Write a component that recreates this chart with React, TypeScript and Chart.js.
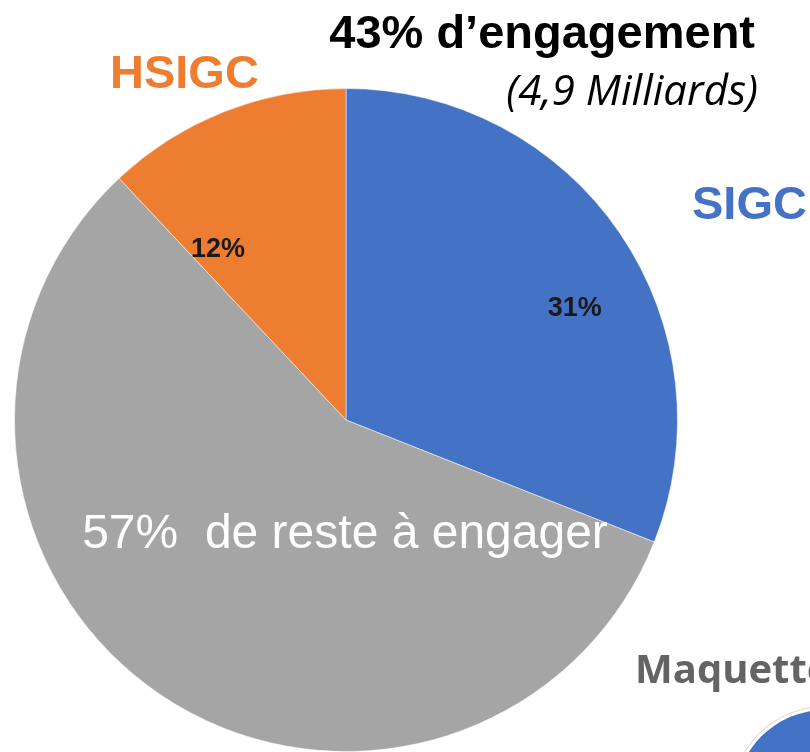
import React, { useEffect, useRef } from "react";
import { Chart, registerables } from "chart.js";

Chart.register(...registerables);

const categories = ["SIGC", "Reste à engager", "HSIGC"];
const values = [31, 57, 12];
const colors = ["#4472C4", "#A5A5A5", "#ED7D31"];
const sliceLabels = ["31%", "57%  de reste à engager", "12%"];

const labelPlugin = {
  id: "labels",
  afterDraw(chart: any) {
    const ctx = chart.ctx;
    const meta = chart.getDatasetMeta(0);
    const arc0 = meta.data[0];
    const cx = arc0.x;
    const cy = arc0.y;
    const r = arc0.outerRadius;
    ctx.save();
    const rel = [
      { dx: 0.69, dy: -0.335, font: "bold 27px 'Liberation Sans', Arial", color: "#1a1a1a" },
      { dx: -0.003, dy: 0.347, font: "48px 'Liberation Sans', Arial", color: "#ffffff" },
      { dx: -0.386, dy: -0.515, font: "bold 27px 'Liberation Sans', Arial", color: "#1a1a1a" },
    ];
    ctx.textAlign = "center";
    ctx.textBaseline = "middle";
    rel.forEach((p, i) => {
      ctx.font = p.font;
      ctx.fillStyle = p.color;
      ctx.fillText(sliceLabels[i], cx + p.dx * r, cy + p.dy * r);
    });

    ctx.textBaseline = "alphabetic";
    ctx.textAlign = "right";
    ctx.fillStyle = "#000000";
    ctx.font = "bold 47px 'Liberation Sans', Arial";
    ctx.fillText("43% d\u2019engagement", 755, 48);
    ctx.font = "italic 42px 'Open Sans', sans-serif";
    ctx.fillText("(4,9 Milliards)", 758, 105);

    ctx.textAlign = "left";
    ctx.fillStyle = "#ED7D31";
    ctx.font = "bold 47px 'Liberation Sans', Arial";
    ctx.fillText("HSIGC", 110, 88);
    ctx.fillStyle = "#4472C4";
    ctx.fillText("SIGC", 692, 219);

    ctx.fillStyle = "#646464";
    ctx.font = "bold 40px 'Open Sans', sans-serif";
    ctx.fillText("Maquette", 635, 683);

    ctx.beginPath();
    ctx.arc(825, 800, 94, 0, Math.PI * 2);
    ctx.fillStyle = "#d9d9d9";
    ctx.fill();
    ctx.beginPath();
    ctx.arc(825, 800, 93, 0, Math.PI * 2);
    ctx.fillStyle = "#ffffff";
    ctx.fill();
    ctx.beginPath();
    ctx.arc(825, 800, 90, 0, Math.PI * 2);
    ctx.fillStyle = "#4472C4";
    ctx.fill();
    ctx.restore();
  },
};

export default function App() {
  const ref = useRef<HTMLCanvasElement>(null);
  useEffect(() => {
    if (!ref.current) return;
    const chart = new Chart(ref.current, {
      type: "pie",
      data: {
        labels: categories,
        datasets: [
          {
            data: values,
            backgroundColor: colors,
            borderColor: "rgba(255,255,255,0.5)",
            borderWidth: 1,
          },
        ],
      },
      options: {
        responsive: false,
        animation: false,
        layout: { padding: { left: 13, right: 131, top: 88, bottom: 0 } },
        plugins: { legend: { display: false }, tooltip: { enabled: false } },
      },
      plugins: [labelPlugin],
    });
    return () => chart.destroy();
  }, []);
  return (
    <div style={{ position: "absolute", left: 0, top: 0, width: 810, height: 752, background: "#fff" }}>
      <canvas ref={ref} width={810} height={752} style={{ display: "block" }} />
    </div>
  );
}
